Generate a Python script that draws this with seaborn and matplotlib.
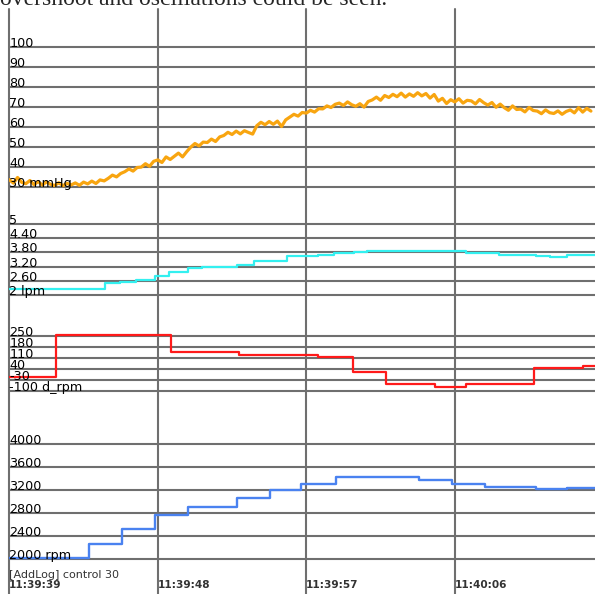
import numpy as np
import pandas as pd
import matplotlib
matplotlib.use("Agg")
import matplotlib.pyplot as plt
import matplotlib.transforms as mtrans
import seaborn as sns

# pressure samples, one every 0.25 s from 11:39:39
pressure = [33.5, 31.8, 34.6, 32.2, 31.5, 33.1, 31.0, 32.6,
            30.8, 32.4, 31.2, 30.6, 32.0, 30.5, 31.7, 30.9,
            31.9, 30.7, 32.3, 31.4, 32.8, 31.6, 33.4, 32.9,
            34.2, 35.8, 34.9, 36.6, 37.5, 38.9, 37.8, 39.6,
            39.8, 41.5, 40.2, 42.7, 43.4, 42.1, 44.9, 43.6,
            45.2, 46.8, 44.9, 47.5, 49.8, 51.6, 50.4, 52.3,
            52.1, 53.8, 52.6, 54.9, 55.6, 57.2, 56.1, 57.8,
            56.4, 58.0, 57.1, 56.3, 60.5, 62.2, 61.0, 62.6,
            61.2, 62.8, 60.1, 63.4, 64.8, 66.2, 65.3, 67.1,
            66.8, 68.2, 67.3, 69.0, 68.9, 70.4, 69.6, 71.2,
            71.8, 70.6, 72.4, 71.0, 70.2, 71.5, 69.8, 72.6,
            73.4, 74.8, 73.2, 75.6, 74.6, 76.2, 75.0, 76.8,
            74.8, 76.4, 75.2, 77.0, 75.4, 76.6, 74.3, 76.1,
            72.8, 74.2, 71.6, 73.5, 72.4, 74.0, 71.8, 73.2,
            72.9, 71.4, 73.6, 72.0, 70.8, 72.1, 69.7, 71.3,
            69.5, 68.2, 70.4, 68.6, 68.8, 67.4, 69.6, 68.1,
            67.8, 66.5, 68.4, 67.0, 66.6, 67.9, 66.2, 67.6,
            68.4, 66.9, 69.5, 67.3, 69.2, 67.8]
sample_step = 0.25

# step series: change times (s after 11:39:39) and values
flow_t = [0, 4.8, 5.8, 6.7, 7.7, 8.8, 9.7, 10.8, 11.7, 13.8, 14.8, 16.8,
          18.7, 19.7, 20.9, 21.7, 25.8, 27.7, 28.8, 29.7, 31.9, 32.8, 33.8, 36.0]
flow_v = [2.23, 2.26, 2.49, 2.53, 2.63, 2.80, 2.98, 3.12, 3.19, 3.26, 3.45, 3.63,
          3.69, 3.76, 3.82, 3.87, 3.85, 3.79, 3.76, 3.70, 3.66, 3.62, 3.68, 3.68]

drpm_t = [0, 2.8, 9.8, 13.9, 18.7, 20.8, 22.8, 25.8, 27.7, 31.8, 34.8, 36.0]
drpm_v = [-10, 255, 148, 125, 117, 18, -54, -75, -54, 44, 58, 58]

rpm_t = [0, 4.8, 6.8, 8.8, 10.8, 13.8, 15.8, 17.7, 19.8, 24.8, 26.8, 28.8, 31.9, 33.8, 36.0]
rpm_v = [2010, 2255, 2515, 2765, 2905, 3060, 3195, 3305, 3415, 3370, 3300, 3242, 3207, 3230, 3230]

p_levels = [100, 90, 80, 70, 60, 50, 40, 30]
p_labels = ["100", "90", "80", "70", "60", "50", "40", "30 mmHg"]
f_levels = [5, 4.4, 3.8, 3.2, 2.6, 2]
f_labels = ["5", "4.40", "3.80", "3.20", "2.60", "2 lpm"]
d_levels = [250, 180, 110, 40, -30, -100]
d_labels = ["250", "180", "110", "40", "-30", "-100 d_rpm"]
r_levels = [4000, 3600, 3200, 2800, 2400, 2000]
r_labels = ["4000", "3600", "3200", "2800", "2400", "2000 rpm"]

tick_secs = [0, 9, 18, 27]
tick_labels = ["11:39:39", "11:39:48", "11:39:57", "11:40:06"]

sns.set_style("white")
plt.rcParams['font.family'] = ['DejaVu Sans']

W, H = 595, 594
x0 = 9.3
px_per_s = 16.5
fig = plt.figure(figsize=(W / 100, H / 100), dpi=100)
grid_c = '#6f6f6f'


def make_ax(top, bottom, v_a, y_a, v_b, y_b, levels, labels):
    ax = fig.add_axes([x0 / W, 1 - bottom / H, 1 - x0 / W, (bottom - top) / H])
    k = (v_a - v_b) / (y_b - y_a)
    ax.set_ylim(v_a - (bottom - y_a) * k, v_a + (y_a - top) * k)
    ax.set_xlim(0, (W - x0) / px_per_s)
    ax.set_yticks(levels)
    ax.set_xticks(tick_secs)
    ax.grid(True, color=grid_c, lw=1.5)
    ax.tick_params(length=0, labelleft=False, labelbottom=False)
    for s in ax.spines.values():
        s.set_visible(False)
    for gl in ax.get_xgridlines():
        gl.set_clip_on(False)
    tr = mtrans.blended_transform_factory(ax.transAxes, ax.transData)
    for v, s in zip(levels, labels):
        ax.text(0, v, s, transform=tr, ha='left', va='baseline', fontsize=9.2,
                color='black', zorder=5)
    return ax


ax1 = make_ax(9, 205, 100, 46.7, 30, 186.7, p_levels, p_labels)
ax2 = make_ax(205, 310, 5, 224.3, 2, 294.7, f_levels, f_labels)
ax3 = make_ax(310, 410, 250, 335.7, -100, 391, d_levels, d_labels)
ax4 = make_ax(410, 594, 4000, 443.7, 2000, 558.7, r_levels, r_labels)

p_df = pd.DataFrame({'t': np.arange(len(pressure)) * sample_step, 'v': pressure})
sns.lineplot(data=p_df, x='t', y='v', ax=ax1, color='#f8a510', lw=2.3)

sns.lineplot(x=flow_t, y=flow_v, ax=ax2, color='#33f0f0', lw=1.6, drawstyle='steps-post')
sns.lineplot(x=drpm_t, y=drpm_v, ax=ax3, color='#ff1a1a', lw=1.6, drawstyle='steps-post')
sns.lineplot(x=rpm_t, y=rpm_v, ax=ax4, color='#4a82f0', lw=1.7, drawstyle='steps-post')

for ax in (ax1, ax2, ax3, ax4):
    ax.set_xlabel('')
    ax.set_ylabel('')

tr4 = mtrans.blended_transform_factory(ax4.transData, fig.transFigure)
for t, s in zip(tick_secs, tick_labels):
    ax4.text(t, 1 - 588 / H, s, transform=tr4, ha='left', va='baseline',
             fontsize=7.6, color='#333333', fontweight='bold')
ax4.text(0, 1 - 578 / H, "[AddLog] control 30", transform=tr4, ha='left',
         va='baseline', fontsize=8, color='#333333')

fig.text(0.0, 1 - 5 / H, "overshoot and oscillations could be seen.",
         ha='left', va='baseline', fontsize=17, family='Liberation Serif')

fig.savefig('out.png', dpi=100)
